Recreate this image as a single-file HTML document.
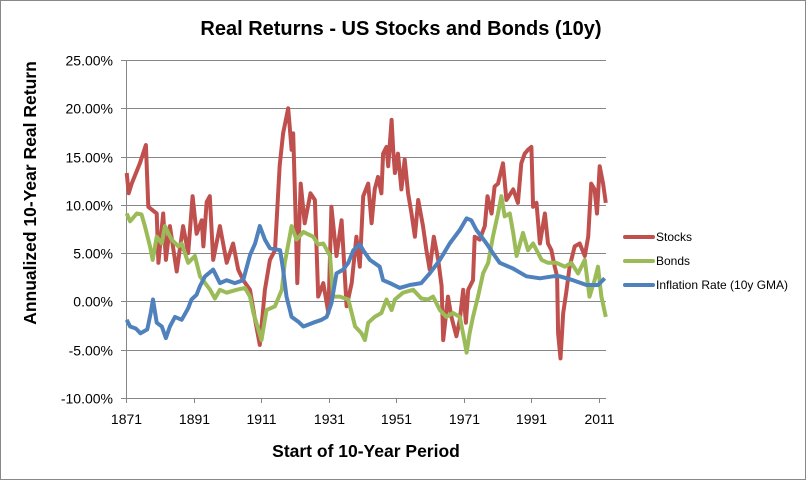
<!DOCTYPE html>
<html><head><meta charset="utf-8"><style>
body{margin:0;background:#fff;}
svg{display:block;font-family:"Liberation Sans",sans-serif;}
</style></head><body>
<svg id="chart" width="807" height="481" viewBox="0 0 807 481">
<rect x="0.5" y="0.5" width="805" height="479" fill="#fff" stroke="#888"/>
<text x="401" y="35" text-anchor="middle" font-size="20" font-weight="bold">Real Returns - US Stocks and Bonds (10y)</text>
<text transform="translate(36,193) rotate(-90)" text-anchor="middle" font-size="17.5" font-weight="bold">Annualized 10-Year Real Return</text>
<text x="366" y="457" text-anchor="middle" font-size="17.5" font-weight="bold">Start of 10-Year Period</text>
<g id="grid"></g><g id="series"></g><g id="legend"></g>
</svg>
<script>
const yTicks=[25,20,15,10,5,0,-5,-10];
const xTicks=[1871,1891,1911,1931,1951,1971,1991,2011];
const stocksYears=[1871.2,1871.8,1872.7,1875.1,1876.9,1877.6,1880.1,1880.6,1882.0,1882.8,1884.0,1886.0,1887.9,1889.4,1890.7,1891.9,1893.4,1893.9,1894.9,1895.8,1896.8,1898.8,1900.8,1902.7,1904.2,1905.7,1907.7,1909.2,1910.6,1912.1,1913.6,1915.1,1916.5,1917.5,1919.0,1920.0,1920.5,1921.2,1921.7,1922.7,1923.9,1925.6,1926.9,1927.9,1929.4,1930.9,1931.8,1933.3,1934.8,1936.3,1937.8,1939.2,1940.2,1941.2,1942.7,1943.7,1944.6,1945.6,1946.6,1947.1,1948.1,1948.6,1949.6,1950.1,1950.6,1951.5,1952.5,1953.5,1954.5,1955.5,1956.5,1957.5,1958.9,1959.9,1960.9,1962.1,1963.4,1964.4,1964.9,1966.3,1967.3,1968.8,1969.8,1970.8,1971.6,1972.3,1973.7,1974.2,1975.7,1977.2,1978.0,1979.2,1980.1,1981.1,1982.6,1983.6,1985.6,1987.0,1988.0,1989.0,1990.0,1991.0,1991.5,1992.5,1993.5,1995.0,1995.9,1996.9,1997.9,1998.6,1998.9,1999.6,2000.4,2001.3,2002.3,2003.8,2005.3,2006.8,2007.8,2008.7,2009.7,2010.4,2011.2,2012.2,2013.0];
const stocksValues=[13.3,11.2,12.2,14.3,16.2,9.8,9.1,4.0,9.1,4.3,7.8,3.1,7.8,5.0,10.9,7.0,8.4,5.7,10.3,10.9,4.3,7.8,4.0,6.0,3.3,2.2,1.2,-1.9,-4.5,1.2,4.3,5.3,14.1,17.4,20.0,15.7,17.4,8.8,1.9,12.2,8.1,11.2,10.5,0.5,1.9,-1.2,9.8,4.7,8.4,-0.5,1.9,6.7,3.6,10.9,12.2,8.1,11.6,12.9,11.2,15.3,16.0,14.0,18.8,15.7,13.3,15.3,11.6,14.7,11.2,9.1,6.7,10.5,7.8,5.3,3.3,6.7,4.3,1.6,-4.0,0.5,-1.6,-3.6,-1.9,1.2,-2.2,1.2,2.2,6.7,6.4,7.8,10.9,9.1,11.9,12.2,14.3,10.5,11.6,10.2,14.3,15.3,15.7,16.0,9.8,10.2,6.0,9.1,6.0,5.3,3.6,2.6,-3.3,-5.9,-1.2,0.9,3.6,5.7,6.0,4.7,6.7,12.2,11.6,9.1,14.0,12.2,10.2];
const bondsYears=[1871.2,1872.2,1874.2,1875.6,1876.6,1878.1,1878.9,1880.1,1881.6,1882.5,1884.5,1886.5,1887.5,1889.4,1891.4,1892.9,1894.4,1895.9,1897.3,1898.8,1900.8,1903.7,1906.2,1907.7,1908.7,1910.2,1911.1,1912.6,1915.1,1917.1,1918.0,1920.0,1921.5,1923.5,1926.4,1927.9,1929.4,1931.4,1932.3,1934.3,1936.8,1938.8,1940.7,1941.7,1942.7,1944.6,1946.6,1948.1,1949.6,1950.6,1953.0,1956.0,1958.4,1960.4,1961.9,1963.9,1965.8,1967.8,1969.8,1971.3,1971.8,1972.7,1973.7,1975.2,1976.7,1978.2,1979.6,1981.1,1982.1,1983.1,1984.6,1985.6,1986.6,1988.5,1990.0,1991.5,1994.0,1995.9,1998.4,2000.9,2002.8,2004.8,2006.8,2008.2,2009.7,2010.7,2011.7,2013.0];
const bondsValues=[9.1,8.3,9.1,9.0,7.8,5.7,4.3,6.7,6.0,7.8,6.4,5.7,6.0,4.0,4.7,2.6,1.9,1.2,0.3,1.2,0.9,1.2,1.4,0.5,-1.2,-2.9,-4.0,-0.9,-0.5,1.2,4.0,7.8,6.4,7.2,6.7,5.9,6.0,4.7,0.5,0.5,0.2,-2.6,-3.3,-4.0,-2.2,-1.6,-1.2,0.2,-0.9,0.2,0.9,1.2,0.3,0.2,0.5,-0.9,-1.6,-1.2,-1.6,-4.3,-5.3,-3.3,-1.6,0.5,2.9,4.0,6.7,9.1,10.9,8.8,9.1,7.1,4.7,7.1,5.3,6.0,4.3,4.0,4.0,3.6,4.0,2.9,4.3,0.5,2.2,3.6,0.5,-1.6];
const inflYears=[1871.2,1872.2,1873.9,1875.3,1877.3,1878.3,1879.0,1880.1,1881.6,1882.8,1884.0,1885.5,1887.5,1889.4,1890.4,1891.9,1892.9,1894.4,1896.8,1898.8,1900.8,1903.2,1905.7,1907.7,1909.2,1910.6,1912.1,1913.6,1916.6,1917.5,1918.5,1920.0,1922.0,1923.5,1926.4,1928.9,1930.4,1931.8,1933.3,1935.3,1936.8,1938.3,1940.2,1941.2,1943.2,1946.1,1947.1,1949.1,1952.0,1955.0,1958.4,1960.9,1963.9,1966.8,1969.8,1971.8,1973.2,1974.7,1977.7,1979.6,1981.6,1985.6,1989.5,1993.5,1997.4,1999.4,2003.3,2007.3,2010.7,2012.7];
const inflValues=[-1.9,-2.6,-2.8,-3.3,-2.9,-1.2,0.2,-2.2,-2.6,-3.8,-2.6,-1.6,-1.9,-0.7,0.2,0.7,1.6,2.6,3.3,1.9,2.2,1.9,2.2,4.8,6.0,7.8,6.4,5.5,5.3,3.3,0.5,-1.6,-2.1,-2.6,-2.2,-1.9,-1.6,-0.2,2.9,3.3,4.0,5.3,5.9,5.3,4.3,3.6,2.2,1.9,1.4,1.7,1.9,2.9,4.3,6.0,7.4,8.6,8.4,7.4,6.0,5.0,4.0,3.4,2.6,2.4,2.6,2.6,2.2,1.7,1.7,2.4];
const seriesNames=["Stocks","Bonds","Inflation Rate (10y GMA)"];

const NS="http://www.w3.org/2000/svg";
const X0=126,X1=606,Y0=60,Y1=398;
function xs(yr){return X0+(yr-1871)*(599-126)/140;}
function ys(v){return Y1-(v+10)*(Y1-Y0)/35;}
function mk(tag,attrs,parent){const e=document.createElementNS(NS,tag);for(const k in attrs)e.setAttribute(k,attrs[k]);parent.appendChild(e);return e;}
const grid=document.getElementById('grid');
yTicks.forEach(t=>{
  const y=Math.round(ys(t))+0.5;
  const l=mk('line',{x1:X0,x2:X1,y1:y,y2:y,stroke:'#868686','stroke-width':1},grid);
  
  
  mk('line',{x1:X0-5,x2:X0,y1:y,y2:y,stroke:'#868686'},grid);
  const tx=mk('text',{x:X0-13,y:y+5,'text-anchor':'end','font-size':14,fill:'#000'},grid);
  tx.textContent=t.toFixed(2)+'%';
  
  
});
const ax=mk('line',{x1:X0+0.5,x2:X0+0.5,y1:Y0,y2:Y1+1,stroke:'#868686'},grid);


const axx=mk('line',{x1:X0,x2:X1,y1:Y1+0.5,y2:Y1+0.5,stroke:'#868686'},grid);


xTicks.forEach(t=>{
  const x=Math.round(xs(t))+0.5;
  mk('line',{x1:x,x2:x,y1:Y1,y2:Y1+5,stroke:'#868686'},grid);
  const tx=mk('text',{x:x,y:424,'text-anchor':'middle','font-size':14},grid);
  tx.textContent=t;
  
  
});
const colors=['#c0504d','#9bbb59','#4f81bd'];
const sg=document.getElementById('series');
function drawLine(years,vals,color,name){
  const pts=years.map((yr,i)=>xs(yr).toFixed(1)+','+ys(vals[i]).toFixed(1)).join(' ');
  const p=mk('polyline',{points:pts,fill:'none',stroke:color,'stroke-width':4,'stroke-linejoin':'round'},sg);
  
  
}
drawLine(stocksYears,stocksValues,colors[0],'stocks-line');
drawLine(bondsYears,bondsValues,colors[1],'bonds-line');
drawLine(inflYears,inflValues,colors[2],'inflation-line');
const lg=document.getElementById('legend');
seriesNames.forEach((n,i)=>{
  const y=237+i*24;
  const g=mk('g',{},lg);
  
  
  mk('line',{x1:625,x2:653,y1:y,y2:y,stroke:colors[i],'stroke-width':4,'stroke-linecap':'round'},g);
  const t=mk('text',{x:656,y:y+4,'font-size':12},g);
  t.textContent=n;
});
</script>
</body></html>
